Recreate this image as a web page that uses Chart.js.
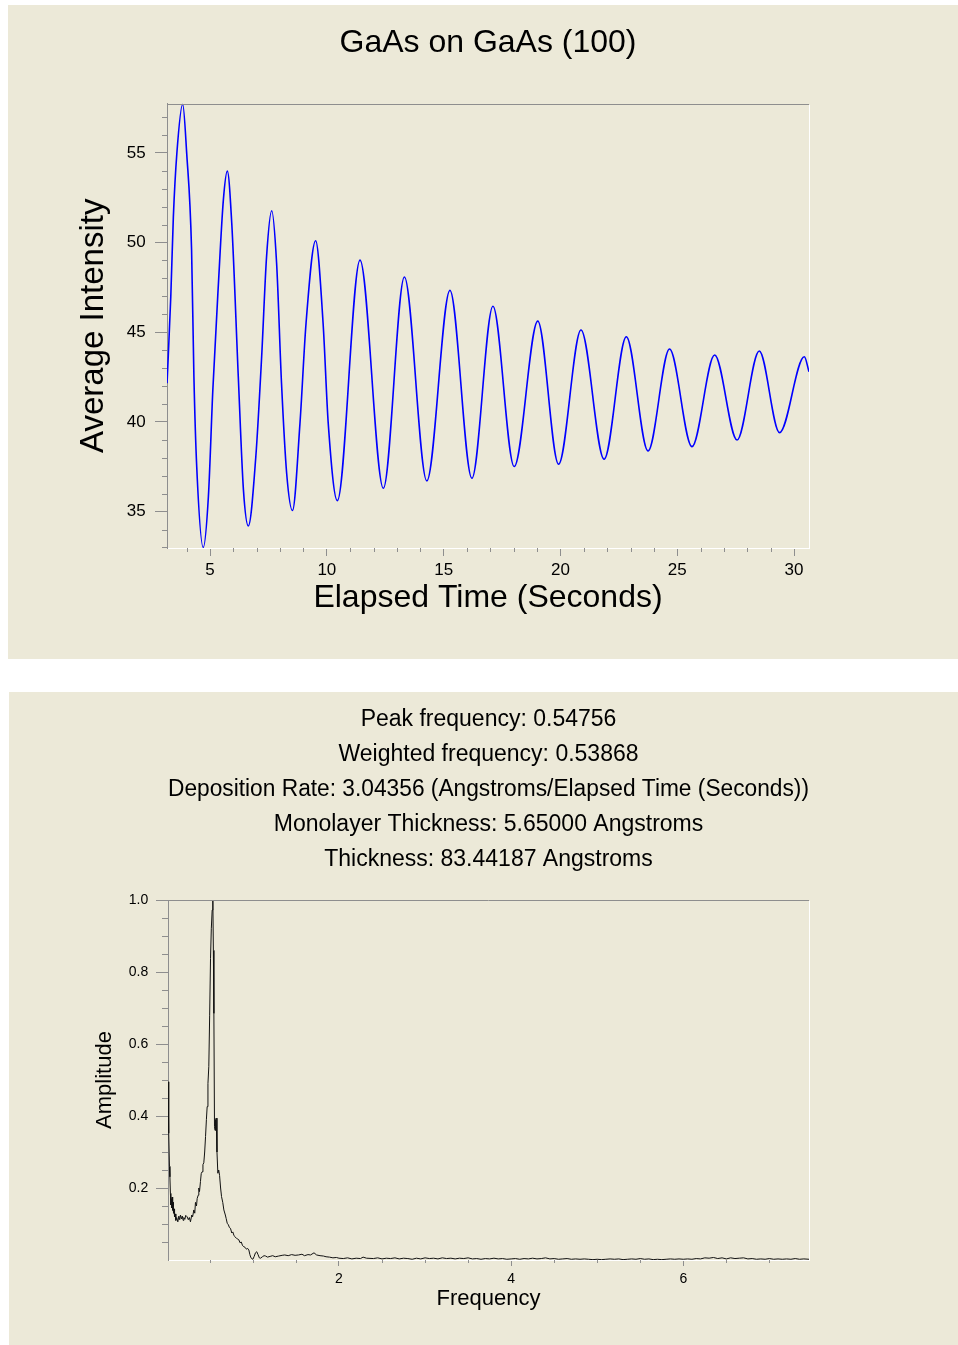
<!DOCTYPE html>
<html>
<head>
<meta charset="utf-8">
<script src="https://cdn.jsdelivr.net/npm/chart.js@4.4.1/dist/chart.umd.min.js"></script>
<style>
  html, body { margin: 0; padding: 0; background: #ffffff; width: 958px; height: 1345px; overflow: hidden; }
  .panel { position: absolute; background: #ECE9D8; }
  canvas { display: block; }
</style>
</head>
<body>
<div class="panel" style="left:8px;top:5px;width:950px;height:654px;"><canvas id="c1" width="950" height="654"></canvas></div>
<div class="panel" style="left:9px;top:692px;width:949px;height:653px;"><canvas id="c2" width="949" height="653"></canvas></div>
<script>
// ---------- Data: RHEED intensity vs time ----------
const timeSec = [3.16, 3.32, 3.43, 3.58, 3.83, 4.00, 4.21, 4.31, 4.43, 4.71, 4.93, 5.12, 5.36, 5.57, 5.74, 5.93, 6.21, 6.43, 6.64, 6.96, 7.21, 7.42, 7.64, 7.85, 8.06, 8.28, 8.53, 8.85, 9.11, 9.52, 9.84, 10.06, 10.45, 11.42, 12.42, 13.32, 14.28, 15.27, 16.21, 17.11, 18.02, 19.03, 19.92, 20.88, 21.87, 22.82, 23.75, 24.67, 25.63, 26.60, 27.56, 28.51, 29.38, 30.44, 30.64];
const intensity = [42.15, 46.98, 51.43, 54.98, 57.71, 55.0, 49.58, 42.52, 37.51, 33.0, 35.84, 41.78, 47.72, 52.36, 53.98, 51.07, 42.52, 36.21, 34.2, 38.06, 43.64, 49.21, 51.77, 48.84, 42.15, 37.14, 35.06, 39.92, 45.5, 50.1, 45.5, 39.92, 35.61, 49.02, 36.3, 48.08, 36.71, 47.33, 36.86, 46.45, 37.51, 45.62, 37.64, 45.12, 37.92, 44.75, 38.38, 44.06, 38.62, 43.73, 38.99, 43.95, 39.4, 43.63, 42.8];

// ---------- Data: FFT amplitude vs frequency ----------
const fftFreq = [0.015, 0.02, 0.025, 0.031, 0.036, 0.042, 0.047, 0.052, 0.057, 0.062, 0.068, 0.073, 0.078, 0.084, 0.09, 0.097, 0.105, 0.115, 0.128, 0.14, 0.15, 0.159, 0.17, 0.18, 0.19, 0.198, 0.21, 0.22, 0.236, 0.25, 0.262, 0.275, 0.29, 0.30, 0.314, 0.325, 0.333, 0.345, 0.353, 0.365, 0.372, 0.38, 0.391, 0.40, 0.41, 0.42, 0.43, 0.44, 0.45, 0.46, 0.469, 0.478, 0.488, 0.498, 0.508, 0.517, 0.527, 0.535, 0.541, 0.547, 0.554, 0.56, 0.566, 0.574, 0.583, 0.593, 0.603, 0.613, 0.625, 0.636, 0.65, 0.663, 0.68, 0.69, 0.702, 0.715, 0.728, 0.74, 0.755, 0.767, 0.779, 0.79, 0.81, 0.825, 0.837, 0.85, 0.865, 0.88, 0.895, 0.91, 0.925, 0.94, 0.953, 0.965, 0.975, 0.985, 1.0, 1.015, 1.03, 1.045, 1.06, 1.075, 1.09, 1.11, 1.13, 1.148, 1.17, 1.2, 1.23, 1.26, 1.3, 1.34, 1.37, 1.41, 1.45, 1.49, 1.53, 1.57, 1.6, 1.64, 1.67, 1.71, 1.74, 1.78, 1.82, 1.85, 1.89, 1.93, 1.97, 2.0, 2.05, 2.1, 2.15, 2.2, 2.25, 2.28, 2.32, 2.4, 2.45, 2.5, 2.55, 2.6, 2.65, 2.7, 2.75, 2.8, 2.85, 2.9, 2.95, 3.0, 3.05, 3.1, 3.15, 3.2, 3.25, 3.3, 3.35, 3.4, 3.45, 3.5, 3.55, 3.6, 3.65, 3.7, 3.75, 3.8, 3.85, 3.9, 3.95, 4.0, 4.05, 4.1, 4.15, 4.2, 4.25, 4.3, 4.35, 4.4, 4.45, 4.5, 4.55, 4.6, 4.65, 4.7, 4.75, 4.8, 4.85, 4.9, 4.95, 5.0, 5.05, 5.1, 5.15, 5.2, 5.25, 5.3, 5.35, 5.4, 5.45, 5.5, 5.55, 5.6, 5.65, 5.7, 5.75, 5.8, 5.85, 5.9, 5.95, 6.0, 6.05, 6.1, 6.15, 6.2, 6.25, 6.3, 6.35, 6.4, 6.45, 6.5, 6.55, 6.6, 6.65, 6.7, 6.75, 6.8, 6.85, 6.9, 6.95, 7.0, 7.05, 7.1, 7.15, 7.2, 7.25, 7.3, 7.35, 7.4, 7.46];
const fftAmp = [0.495, 0.40, 0.352, 0.26, 0.231, 0.185, 0.153, 0.17, 0.145, 0.175, 0.138, 0.16, 0.13, 0.142, 0.12, 0.128, 0.11, 0.118, 0.106, 0.122, 0.112, 0.125, 0.114, 0.122, 0.11, 0.118, 0.113, 0.124, 0.12, 0.112, 0.118, 0.106, 0.125, 0.12, 0.139, 0.13, 0.16, 0.15, 0.171, 0.18, 0.2, 0.19, 0.218, 0.24, 0.245, 0.265, 0.27, 0.30, 0.343, 0.39, 0.426, 0.49, 0.537, 0.68, 0.838, 0.92, 0.972, 1.0, 0.86, 0.685, 0.37, 0.36, 0.39, 0.394, 0.30, 0.241, 0.25, 0.235, 0.20, 0.176, 0.16, 0.139, 0.125, 0.115, 0.102, 0.098, 0.09, 0.088, 0.075, 0.078, 0.069, 0.065, 0.06, 0.058, 0.056, 0.048, 0.05, 0.04, 0.037, 0.035, 0.03, 0.032, 0.028, 0.015, 0.008, 0.004, 0.002, 0.01, 0.02, 0.023, 0.015, 0.006, 0.005, 0.009, 0.012, 0.011, 0.008, 0.01, 0.012, 0.009, 0.011, 0.013, 0.014, 0.012, 0.015, 0.013, 0.014, 0.016, 0.012, 0.015, 0.014, 0.02, 0.014, 0.012, 0.011, 0.009, 0.008, 0.006, 0.007, 0.005, 0.004, 0.006, 0.003, 0.005, 0.004, 0.008, 0.005, 0.004, 0.006, 0.003, 0.005, 0.004, 0.006, 0.003, 0.005, 0.004, 0.002, 0.005, 0.003, 0.006, 0.004, 0.005, 0.003, 0.006, 0.004, 0.005, 0.003, 0.005, 0.004, 0.006, 0.003, 0.004, 0.002, 0.004, 0.003, 0.005, 0.003, 0.004, 0.002, 0.003, 0.004, 0.002, 0.004, 0.003, 0.005, 0.003, 0.004, 0.006, 0.003, 0.004, 0.002, 0.003, 0.004, 0.002, 0.003, 0.002, 0.003, 0.002, 0.001, 0.002, 0.001, 0.002, 0.003, 0.002, 0.003, 0.001, 0.002, 0.003, 0.002, 0.004, 0.002, 0.003, 0.001, 0.002, 0.001, 0.002, 0.003, 0.002, 0.003, 0.002, 0.003, 0.002, 0.004, 0.003, 0.006, 0.005, 0.007, 0.004, 0.006, 0.003, 0.006, 0.004, 0.005, 0.006, 0.003, 0.004, 0.002, 0.003, 0.002, 0.004, 0.002, 0.003, 0.002, 0.003, 0.002, 0.004, 0.002, 0.003, 0.002];

const topTitle = 'GaAs on GaAs (100)';
const topXTitle = 'Elapsed Time (Seconds)';
const topYTitle = 'Average Intensity';
const fftInfo = [
  'Peak frequency: 0.54756',
  'Weighted frequency: 0.53868',
  'Deposition Rate: 3.04356 (Angstroms/Elapsed Time (Seconds))',
  'Monolayer Thickness: 5.65000 Angstroms',
  'Thickness: 83.44187 Angstroms'
];
const fftXTitle = 'Frequency';
const fftYTitle = 'Amplitude';

// ---------- Styling helpers ----------
const FONT = "'Liberation Sans', Arial, Helvetica, sans-serif";
const AXIS_GRAY = '#8e8e8e';
const CLEAR = 'rgba(0,0,0,0)';
const isMult = (v, m) => Math.abs(v / m - Math.round(v / m)) < 1e-6;

Chart.defaults.font.family = FONT;
Chart.defaults.color = '#000';

const minorTicks = {
  id: 'minorTicks',
  afterDraw(chart, args, opts) {
    const ctx = chart.ctx;
    ctx.save();
    ctx.strokeStyle = opts.color;
    ctx.lineWidth = 1;
    (opts.list || []).forEach(cfg => {
      const s = chart.scales[cfg.id];
      s.ticks.forEach(t => {
        if (isMult(t.value, cfg.major) || (cfg.skipZero && Math.abs(t.value) < 1e-9)) return;
        const p = Math.round(s.getPixelForValue(t.value)) + 0.5;
        ctx.beginPath();
        if (s.isHorizontal()) { ctx.moveTo(p, s.top); ctx.lineTo(p, s.top + cfg.len); }
        else { ctx.moveTo(s.right, p); ctx.lineTo(s.right - cfg.len, p); }
        ctx.stroke();
      });
    });
    ctx.restore();
  }
};

const frame = {
  id: 'frame',
  afterDraw(chart) {
    const a = chart.chartArea, ctx = chart.ctx;
    ctx.save();
    ctx.lineWidth = 1;
    ctx.strokeStyle = AXIS_GRAY;
    ctx.beginPath();
    ctx.moveTo(Math.round(a.left), Math.round(a.top) + 0.5);
    ctx.lineTo(Math.round(a.right), Math.round(a.top) + 0.5);
    ctx.stroke();
    ctx.strokeStyle = '#ffffff';
    ctx.beginPath();
    ctx.moveTo(Math.round(a.right) + 0.5, Math.round(a.top) + 1);
    ctx.lineTo(Math.round(a.right) + 0.5, Math.round(a.bottom));
    ctx.stroke();
    ctx.restore();
  }
};

// ---------- Chart 1: intensity oscillations ----------
new Chart(document.getElementById('c1'), {
  type: 'line',
  data: {
    datasets: [{
      data: timeSec.map((t, i) => ({ x: t, y: intensity[i] })),
      borderColor: '#0000ff',
      borderWidth: 1.6,
      pointRadius: 0,
      fill: false,
      cubicInterpolationMode: 'monotone'
    }]
  },
  options: {
    responsive: false,
    animation: false,
    devicePixelRatio: 1,
    events: [],
    layout: { padding: { left: 0, right: 149, top: 0, bottom: 0 } },
    plugins: {
      legend: { display: false },
      tooltip: { enabled: false },
      title: {
        display: true, text: topTitle, fullSize: false, color: '#000',
        font: { family: FONT, size: 32, weight: 'normal', lineHeight: 1.2 },
        padding: { top: 18.8, bottom: 41.3 }
      },
      minorTicks: { color: AXIS_GRAY, list: [ { id: 'x', major: 5, len: 4 }, { id: 'y', major: 5, len: 5 } ] }
    },
    scales: {
      x: {
        type: 'linear', min: 3.158, max: 30.64,
        afterFit(s) { s.height = 111; },
        border: { display: true, color: '#ffffff', width: 1 },
        grid: { display: true, drawOnChartArea: false, drawTicks: true, tickLength: 8,
                tickColor: (c) => (c.tick && isMult(c.tick.value, 5)) ? AXIS_GRAY : CLEAR },
        ticks: { stepSize: 1, includeBounds: false, autoSkip: false, maxRotation: 0, padding: 4.4, color: '#000',
                 font: { family: FONT, size: 17 },
                 callback: (v) => isMult(v, 5) ? String(Math.round(v)) : '' },
        title: { display: true, text: topXTitle, color: '#000',
                 font: { family: FONT, size: 32, weight: 'normal', lineHeight: 1.2 },
                 padding: { top: 0, bottom: 41.5 } }
      },
      y: {
        type: 'linear', min: 32.97, max: 57.75,
        afterFit(s) { s.width = 159; },
        border: { display: true, color: AXIS_GRAY, width: 1 },
        grid: { display: true, drawOnChartArea: false, drawTicks: true, tickLength: 12,
                tickColor: (c) => (c.tick && isMult(c.tick.value, 5)) ? AXIS_GRAY : CLEAR },
        ticks: { stepSize: 1, includeBounds: false, autoSkip: false, padding: 9.3, color: '#000',
                 font: { family: FONT, size: 17 },
                 callback: (v) => isMult(v, 5) ? String(Math.round(v)) : '' },
        title: { display: true, text: topYTitle, color: '#000',
                 font: { family: FONT, size: 33, weight: 'normal', lineHeight: 1.2 },
                 padding: { top: 66.4, bottom: 0 } }
      }
    }
  },
  plugins: [minorTicks, frame]
});

// ---------- Chart 2: FFT spectrum ----------
new Chart(document.getElementById('c2'), {
  type: 'line',
  data: {
    datasets: [{
      data: fftFreq.map((f, i) => ({ x: f, y: fftAmp[i] })),
      borderColor: '#111111',
      borderWidth: 1,
      pointRadius: 0,
      fill: false,
      tension: 0
    }]
  },
  options: {
    responsive: false,
    animation: false,
    devicePixelRatio: 1,
    events: [],
    layout: { padding: { left: 0, right: 149, top: 0, bottom: 0 } },
    plugins: {
      legend: { display: false },
      tooltip: { enabled: false },
      title: {
        display: true, text: fftInfo, fullSize: false, color: '#000',
        font: { family: FONT, size: 23, weight: 'normal', lineHeight: '35px' },
        padding: { top: 9.7, bottom: 23.3 }
      },
      minorTicks: { color: AXIS_GRAY, list: [ { id: 'x', major: 2, len: 3 }, { id: 'y', major: 0.2, len: 6, skipZero: true } ] }
    },
    scales: {
      x: {
        type: 'linear', min: 0.014, max: 7.46,
        afterFit(s) { s.height = 85; },
        border: { display: true, color: '#ffffff', width: 1 },
        grid: { display: true, drawOnChartArea: false, drawTicks: true, tickLength: 6,
                tickColor: (c) => (c.tick && isMult(c.tick.value, 2)) ? AXIS_GRAY : CLEAR },
        ticks: { stepSize: 0.5, includeBounds: false, autoSkip: false, maxRotation: 0, padding: 4.3, color: '#000',
                 font: { family: FONT, size: 14 },
                 callback: (v) => isMult(v, 2) ? String(Math.round(v)) : '' },
        title: { display: true, text: fftXTitle, color: '#000',
                 font: { family: FONT, size: 22, weight: 'normal', lineHeight: 1.2 },
                 padding: { top: 0, bottom: 33 } }
      },
      y: {
        type: 'linear', min: 0, max: 1.0,
        afterFit(s) { s.width = 159; },
        border: { display: true, color: AXIS_GRAY, width: 1 },
        grid: { display: true, drawOnChartArea: false, drawTicks: true, tickLength: 12,
                tickColor: (c) => (c.tick && c.tick.value > 1e-6 && isMult(c.tick.value, 0.2)) ? AXIS_GRAY : CLEAR },
        ticks: { stepSize: 0.05, includeBounds: false, autoSkip: false, padding: 7.7, color: '#000',
                 font: { family: FONT, size: 14 },
                 callback: (v) => (v > 1e-6 && isMult(v, 0.2)) ? v.toFixed(1) : '' },
        title: { display: true, text: fftYTitle, color: '#000',
                 font: { family: FONT, size: 22, weight: 'normal', lineHeight: 1.2 },
                 padding: { top: 82.8, bottom: 0 } }
      }
    }
  },
  plugins: [minorTicks, frame]
});
</script>
</body>
</html>
